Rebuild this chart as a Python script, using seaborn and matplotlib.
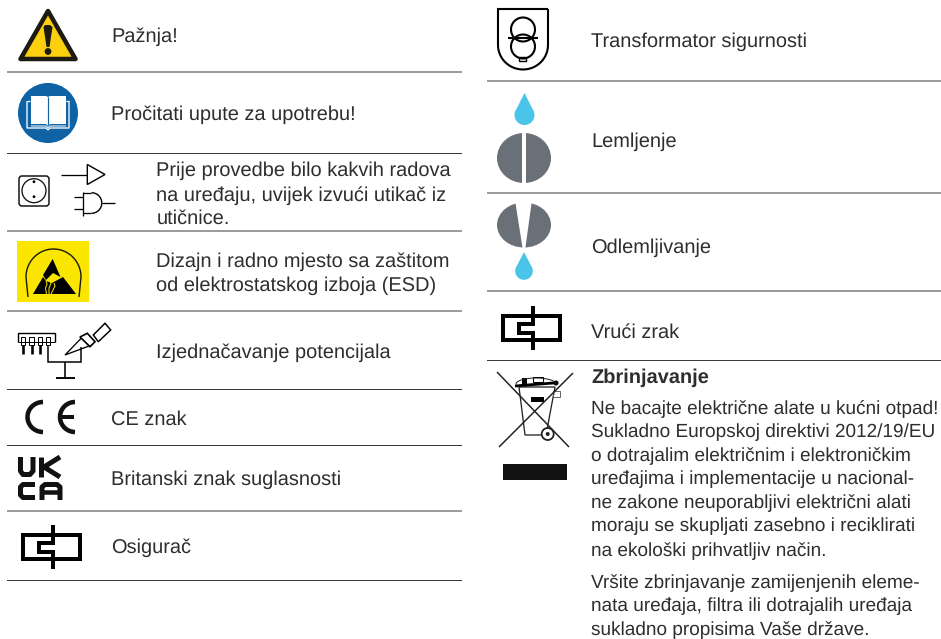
import numpy as np
import pandas as pd
import matplotlib
matplotlib.use("Agg")
import matplotlib.pyplot as plt
import seaborn as sns
from matplotlib.patches import Circle, Ellipse, Polygon, Rectangle, FancyBboxPatch, Arc

# symbol table text
left_labels = ["Pažnja!", "Pročitati upute za upotrebu!"]
left_labels_2 = [
    "Prije provedbe bilo kakvih radova",
    "na uređaju, uvijek izvući utikač iz",
    "utičnice.",
    "Dizajn i radno mjesto sa zaštitom",
    "od elektrostatskog izboja (ESD)",
    "Izjednačavanje potencijala",
]
left_labels_3 = ["CE znak", "Britanski znak suglasnosti", "Osigurač"]
right_labels = ["Transformator sigurnosti", "Lemljenje", "Odlemljivanje", "Vrući zrak"]
disposal_title = "Zbrinjavanje"
disposal_lines = [
    "Ne bacajte električne alate u kućni otpad!",
    "Sukladno Europskoj direktivi 2012/19/EU",
    "o dotrajalim električnim i elektroničkim",
    "uređajima i implementacije u nacional-",
    "ne zakone neuporabljivi električni alati",
    "moraju se skupljati zasebno i reciklirati",
    "na ekološki prihvatljiv način.",
]
disposal_lines_2 = [
    "Vršite zbrinjavanje zamijenjenih eleme-",
    "nata uređaja, filtra ili dotrajalih uređaja",
    "sukladno propisima Vaše države.",
]

# row layout, in pixels from the top left
left_rules = [72, 153.5, 231, 311, 389.5, 445.5, 511, 580.5]
right_rules = [81, 193, 291, 360.5]
left_y = [34.5, 113]
left_y_2 = [169, 193, 217, 260, 284, 351]
left_y_3 = [418, 478, 546]
right_y = [40, 140, 246, 331]
disposal_y = [407, 430.5, 454, 477.5, 501, 524.5, 549]
disposal_y_2 = [580.7, 604.5, 628]

TEXT = "#2e2e2e"
FONT = 14.4
FONT_SMALL = 13.72
sns.set_theme(style="white")
plt.rcParams["font.family"] = ["Liberation Sans", "DejaVu Sans"]
plt.rcParams["text.hinting"] = "no_hinting"

fig = plt.figure(figsize=(9.41, 6.39), dpi=100)
ax = fig.add_axes([0, 0, 1, 1])
ax.set_xlim(0, 941)
ax.set_ylim(639, 0)


def px(w):
    return w * 0.72


def line(xs, ys, w=1.5, c="black", **kw):
    ax.plot(xs, ys, color=c, lw=px(w), solid_capstyle="butt", solid_joinstyle="miter", **kw)


def ring(x, y, r, w=1.5, c="black"):
    ax.add_patch(Circle((x, y), r, fill=False, ec=c, lw=px(w)))


def label(x, y, s, size=FONT, **kw):
    ax.text(x, y, s, color=TEXT, fontsize=size, va="center_baseline", ha="left", **kw)


def warning():
    ax.add_patch(Polygon([(48, 11), (20.5, 59), (75.5, 59)], fc="#fccf0f", ec="#1d1a12", lw=px(4.5), joinstyle="round"))
    ax.add_patch(Polygon([(43.5, 27), (45, 25), (50, 25), (52.5, 27), (49.5, 47), (46.5, 47)], fc="#1d1a12", ec="none"))
    ax.add_patch(Circle((48, 51.5), 3.4, fc="#1d1a12", ec="none"))


def book():
    blue = "#0f63a5"
    ax.add_patch(Circle((48, 113), 30, fc=blue, ec="none"))
    line([27, 27, 46, 48, 50, 69, 69], [101, 128, 128, 130, 128, 128, 101], 1.3, "white")
    line([27, 30], [101, 101], 1.3, "white")
    line([66, 69], [101, 101], 1.3, "white")
    ax.add_patch(Polygon([(31, 96), (46, 96), (48, 97), (50, 96), (66, 96), (66, 124), (50, 124), (48, 126), (46, 124), (31, 124)], fc="white", ec="none"))
    line([48, 48], [97, 125], 1.2, blue)
    line([31, 46, 48, 50, 66], [126, 126, 128, 126, 126], 1, "white")


def socket():
    ax.add_patch(FancyBboxPatch((20, 177), 28, 28, boxstyle="round,pad=1,rounding_size=3", fc="white", ec="#111111", lw=px(1.5)))
    ring(34, 190.7, 12, 1.3, "#111111")
    ax.add_patch(Circle((34, 181.7), 1.4, fc="black", ec="none"))
    ax.add_patch(Circle((34, 196.7), 1.4, fc="black", ec="none"))
    line([60.7, 87.3], [174.5, 174.5], 1.3)
    ax.add_patch(Polygon([(87.3, 164.5), (105, 174.5), (87.3, 184.5)], fill=False, ec="black", lw=px(1.4)))
    line([74, 83], [196.7, 196.7], 1.3)
    line([74, 83], [209.3, 209.3], 1.3)
    line([82.7, 82.7], [191.5, 215.5], 1.3)
    line([82.7, 91.5], [192.7, 192.7], 1.3)
    line([82.7, 91.5], [213.3, 213.3], 1.3)
    ax.add_patch(Arc((91.5, 203), 20.6, 20.6, theta1=-90, theta2=90, ec="black", lw=px(1.4)))
    line([101.7, 115], [203, 203], 1.3)


def esd():
    yellow = "#fbe600"
    ax.add_patch(Rectangle((17, 241), 72, 61, fc=yellow, ec="none"))
    ts = np.linspace(np.pi, 0, 40)
    xs = 53.5 + 27.5 * np.cos(ts)
    ys = 277 - 28 * np.sin(ts)
    line(np.r_[28, xs, 79], np.r_[297, ys, 297], 1.4, "#1c1a05")
    ax.add_patch(Polygon([(52.7, 259), (60.5, 277), (53, 273), (46, 280), (43, 275)], fc="black", ec="none"))
    ax.add_patch(Polygon([(33, 294), (43, 277), (46, 281), (52, 283), (63, 277), (76, 294)], fc="black", ec="none"))
    # the small hand in the cut-out
    line([46.5, 45.5, 47, 46], [294, 288, 284, 281], 1, yellow)
    line([49, 49, 51, 49.5], [294, 288, 283, 280], 1, yellow)
    line([51, 53, 55, 54], [294, 290, 286, 283], 1, yellow)


def equipotential():
    line([18.5, 18.5, 55, 55], [342, 333, 333, 342], 1.4)
    line([18.5, 55], [342, 342], 1)
    for x in [23.3, 31.7, 40, 48.3]:
        ax.add_patch(Rectangle((x - 2.2, 337), 4.4, 8, fc="white", ec="black", lw=px(1)))
    for x in [23.3, 31.7, 40]:
        line([x, x], [345, 353.5], 2.6)
    line([48.3, 48.3, 81, 81], [345, 362.3, 362.3, 346.7], 1.5)
    line([65, 65], [362.3, 378], 1.6)
    line([56, 75], [378, 378], 1.9)
    ax.add_patch(Polygon([(65, 355), (82.7, 336.7), (91.7, 345)], fc="white", ec="black", lw=px(1.3), joinstyle="miter"))
    ax.add_patch(Polygon([(80, 337), (87.3, 333.3), (95, 341.7), (90, 346.7)], fc="white", ec="black", lw=px(1.7)))
    ax.add_patch(Polygon([(93.3, 335), (105, 323.3), (110.7, 330), (98.3, 341.7)], fc="white", ec="black", lw=px(1.5)))


def ce():
    c = "#111111"
    ts = np.radians(np.linspace(90, 270, 30))
    ax.plot(43 + 15.5 * np.cos(ts), 417 + 15 * np.sin(ts), color=c, lw=px(4.5), solid_capstyle="butt")
    ax.plot(75 + 15 * np.cos(ts), 417 + 15 * np.sin(ts), color=c, lw=px(4.5), solid_capstyle="butt")
    line([61, 74], [417, 417], 4, c)


def ukca():
    w = 5
    c = "#111111"
    ax.plot([20.5, 20.5, 23, 30, 33, 33], [457, 471, 474.5, 474.5, 471, 457], color=c, lw=px(w), solid_capstyle="butt")
    line([41.5, 41.5], [457, 477], w, c)
    line([60, 44, 60], [457, 467, 477], w, c)
    ax.plot([35, 23, 20.5, 20.5, 23, 35], [484.5, 484.5, 487, 495, 497.5, 497.5], color=c, lw=px(w), solid_capstyle="butt")
    ax.plot([42, 42, 45, 57, 60, 60], [500, 487, 484.5, 484.5, 487, 500], color=c, lw=px(w), solid_capstyle="butt")
    line([42, 60], [492, 492], w - 0.5, c)


def fuse(x0, y0):
    w = 4
    ax.add_patch(Rectangle((x0, y0), 57, 24, fill=False, ec="black", lw=px(w), joinstyle="miter"))
    stem = x0 + 30.5
    line([stem, stem, x0 + 16.5, x0 + 16.5, stem, stem], [y0 - 10, y0 + 8, y0 + 8, y0 + 17, y0 + 17, y0 + 34], w)


def transformer():
    ts = np.linspace(0, np.pi, 30)
    xs = np.r_[548, 548, 523 + 25 * np.cos(ts), 498, 498, 548]
    ys = np.r_[9, 45, 45 + 24.5 * np.sin(ts), 45, 9, 9]
    line(xs, ys, 2.1)
    ring(523, 29.5, 12, 2.1)
    ring(523, 46.5, 12, 2.1)
    line([508, 538], [37.7, 37.7], 2.1)
    ax.add_patch(Rectangle((519, 57), 7, 3.5, fill=False, ec="black", lw=px(1.4)))


def drop(x, tip, cy, r):
    ts = np.radians(np.linspace(-35, 215, 40))
    xs = x + r * np.cos(ts)
    ys = cy + r * np.sin(ts)
    ax.add_patch(Polygon(np.c_[np.r_[x, xs], np.r_[tip, ys]], fc="#4ac4e8", ec="none"))


def solder():
    drop(524.5, 93, 115, 10)
    ax.add_patch(Ellipse((524, 158), 54, 50, fc="#6a7077", ec="none"))
    ax.add_patch(Rectangle((521.7, 130), 4, 56, fc="white", ec="none"))


def desolder():
    ax.add_patch(Ellipse((524, 225), 54, 45, fc="#6a7077", ec="none"))
    ax.add_patch(Polygon([(515, 200), (532, 200), (525.2, 249), (522.7, 249)], fc="white", ec="none"))
    drop(524, 252, 271, 8.8)


def weee():
    line([497, 569], [372, 447], 1.5, "#222222")
    line([573, 499], [373, 447], 1.5, "#222222")
    ax.add_patch(Polygon([(519, 387), (555, 387), (546, 435), (525, 435)], fill=False, ec="#222222", lw=px(1.3)))
    line([515, 557], [386, 382.7], 2.8)
    ts = np.linspace(np.pi, 0, 20)
    ax.plot(536 + 20 * np.cos(ts), 384 - 6 * np.sin(ts), color="#222222", lw=px(1))
    ax.add_patch(Rectangle((532.7, 377), 10.5, 4.5, fc="white", ec="black", lw=px(1)))
    ax.add_patch(Rectangle((531, 397.3), 13.3, 4.4, fc="black", ec="none"))
    ax.add_patch(Rectangle((521.7, 378), 5, 7, fc="black", ec="none"))
    ax.add_patch(Circle((556, 383), 2.5, fc="black", ec="none"))
    ax.add_patch(Rectangle((553, 391), 7, 6, fill=False, ec="#555555", lw=px(0.9)))
    ax.add_patch(Circle((547.7, 434), 6, fc="white", ec="#222222", lw=px(1.8)))
    ax.add_patch(Circle((547.7, 434), 2, fc="#222222", ec="none"))
    ax.add_patch(Rectangle((503, 464), 64, 16, fc="#111111", ec="none"))


# separators between the rows
rules = pd.DataFrame(
    [{"rule": f"l{i}", "x": x, "y": y} for i, y in enumerate(left_rules) for x in (7, 462)]
    + [{"rule": f"r{i}", "x": x, "y": y} for i, y in enumerate(right_rules) for x in (487, 941)]
)
sns.lineplot(data=rules, x="x", y="y", units="rule", estimator=None, color="#3a3a3a",
             linewidth=0.72, ax=ax, legend=False)
for ln in ax.lines:
    ln.set_snap(False)
    ln.set_solid_capstyle("butt")

for y, s in zip(left_y, left_labels):
    label(111.3, y, s)
for y, s in zip(left_y_2, left_labels_2):
    label(156.5, y, s)
for y, s in zip(left_y_3, left_labels_3):
    label(111.5, y, s)
for y, s in zip(right_y, right_labels):
    label(591.3, y, s)
label(591.5, 376, disposal_title, fontweight="bold")
for y, s in zip(disposal_y + disposal_y_2, disposal_lines + disposal_lines_2):
    label(591.5, y, s, size=FONT_SMALL)

warning()
book()
socket()
esd()
equipotential()
ce()
ukca()
fuse(22.7, 535)
transformer()
solder()
desolder()
fuse(502.7, 316)
weee()

ax.set_xlim(0, 941)
ax.set_ylim(639, 0)
ax.axis("off")
fig.savefig("out.png", dpi=100, facecolor="white")
